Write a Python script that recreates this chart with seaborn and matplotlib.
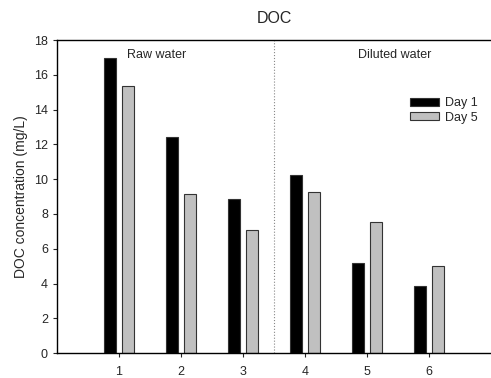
import matplotlib
matplotlib.use('Agg')
import matplotlib.pyplot as plt
import seaborn as sns
import pandas as pd

# Data
samples = ['1', '2', '3', '4', '5', '6']
day1 = [16.95, 12.4, 8.88, 10.25, 5.2, 3.88]
day5 = [15.38, 9.12, 7.1, 9.28, 7.55, 5.03]
series = ['Day 1', 'Day 5']
colors = ['black', '#c0c0c0']

df = pd.DataFrame({
    'sample': samples * 2,
    'doc': day1 + day5,
    'day': [series[0]] * len(samples) + [series[1]] * len(samples),
})

sns.set_style('ticks')
plt.rcParams['font.family'] = ['Liberation Sans', 'DejaVu Sans']

fig = plt.figure(figsize=(4.91, 3.78), dpi=100)
ax = fig.add_axes([0.116, 0.066, 0.884, 0.828])

sns.barplot(data=df, x='sample', y='doc', hue='day', palette=colors,
            width=0.58, gap=0.345, edgecolor='#333333', linewidth=0.8,
            saturation=1, ax=ax)

ax.set_xlim(-1, 6)
ax.set_ylim(0, 18)
ax.set_yticks(range(0, 19, 2))
ax.axvline(2.5, color='#888888', linestyle=':', linewidth=0.8)

ax.text(0.6, 17.15, 'Raw water', fontsize=9, ha='center', va='center')
ax.text(4.44, 17.15, 'Diluted water', fontsize=9, ha='center', va='center')

ax.set_title('DOC', fontsize=11.5, pad=12)
ax.set_xlabel('')
ax.set_ylabel('DOC concentration (mg/L)', fontsize=10)
ax.tick_params(labelsize=9, length=3, width=0.8, direction='out')
ax.tick_params(axis='x', pad=6)

for s in ['left', 'bottom', 'top']:
    ax.spines[s].set_linewidth(1)
    ax.spines[s].set_color('black')
ax.spines['right'].set_visible(False)

ax.legend(loc='upper right', bbox_to_anchor=(0.982, 0.834), frameon=False,
          fontsize=9, handlelength=2.3, handleheight=0.6,
          labelspacing=0.2, handletextpad=0.5, borderaxespad=0)

fig.savefig('out.png', dpi=100)
